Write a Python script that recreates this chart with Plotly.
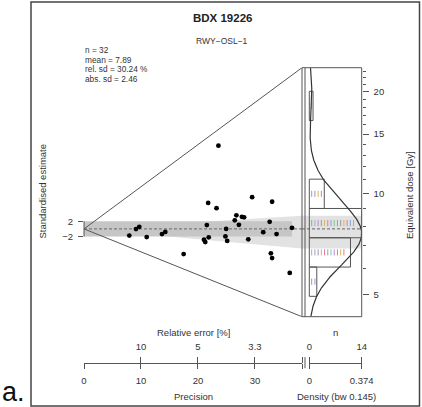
import numpy as np
import plotly.graph_objects as go

# ---------------- data ----------------
de_gy = [19.72, 10.72, 9.91, 10.40, 9.73, 8.96, 8.54, 8.80, 8.74, 8.16, 8.31,
         8.22, 7.85, 7.91, 7.64, 7.54, 7.10, 7.25, 6.86, 6.68, 6.93, 7.14,
         5.39, 6.46, 6.23, 5.71, 8.31, 7.80, 6.30, 6.46, 7.43, 7.11]
rel_err_pct = [4.24, 4.59, 4.30, 3.39, 3.03, 3.74, 3.78, 3.61, 3.56, 3.68, 3.07,
               4.64, 4.01, 2.74, 3.18, 2.96, 4.57, 4.03, 4.75, 4.70, 3.98, 3.47,
               5.72, 3.05, 3.03, 2.77, 10.31, 10.96, 12.58, 9.09, 7.01, 7.31]
central_de = 7.85
dispersion_de = [6.87, 8.58]
z_band = [-2.0, 2.0]
de_limits = [4.31, 23.6]
precision_max = 38.25
hist_breaks_ln = [1.6, 1.8, 2.0, 2.2, 2.4, 2.6, 2.8, 3.0]
kde_bandwidth = 0.145
density_max = 0.374
precision_ticks = [0, 10, 20, 30]
z_ticks = [-2, 2]
z_ticktext = ["\u22122", "2"]
de_major_ticks = [5, 10, 15, 20]
de_minor_ticks = [6, 7, 8, 9, 11, 12, 13, 14, 16, 17, 18, 19, 21, 22, 23]
stats_lines = ["n = 32", "mean = 7.89", "rel. sd = 30.24 %", "abs. sd = 2.46"]
title_text = "BDX 19226"
subtitle_text = "RWY\u2212OSL\u22121"
dot_colors = ["#e07b91", "#7fa7d9", "#88c498", "#b48ad8", "#9a9a9a", "#e0b060"]

# ---------------- layout geometry (pixels) ----------------
W, H = 422, 407
def px(x):
    return x / W
def py(y):
    return 1 - y / H

X_RAD = [84, 302]
X_HIST = [302, 361.7]
X_N = [309.3, 361.7]
Y_TOP, Y_BOT = 67.7, 316.7
Y_AXIS_BOTTOM = 362.7
ydom = [py(Y_BOT), py(Y_TOP)]

FONT = "Liberation Sans, Arial, sans-serif"
TXT = "#333333"
LINE = "#555555"

# ---------------- derived values ----------------
de = np.array(de_gy)
prec = 100.0 / np.array(rel_err_pct)
ln_c = np.log(central_de)
z = (np.log(de) - ln_c) * prec
z_top = (np.log(de_limits[1]) - ln_c) * precision_max
z_bot = (np.log(de_limits[0]) - ln_c) * precision_max
z_disp = [(np.log(v) - ln_c) * precision_max for v in dispersion_de]

counts, edges = np.histogram(np.log(de), bins=hist_breaks_ln)
n_max = counts.max()
count_px = (X_N[1] - X_N[0]) / n_max
x2_left = -(X_N[0] - X_HIST[0]) / count_px

fig = go.Figure()

# dispersion polygon (radial wedge + band through histogram)
fig.add_trace(go.Scatter(x=[0, precision_max, precision_max, 0],
                         y=[0, z_disp[1], z_disp[0], 0],
                         fill="toself", fillcolor="#e2e2e2", line=dict(width=0),
                         mode="lines", hoverinfo="skip", xaxis="x", yaxis="y"))
fig.add_trace(go.Scatter(x=[x2_left, n_max, n_max, x2_left, x2_left],
                         y=[dispersion_de[0], dispersion_de[0], dispersion_de[1],
                            dispersion_de[1], dispersion_de[0]],
                         fill="toself", fillcolor="#e2e2e2", line=dict(width=0),
                         mode="lines", hoverinfo="skip", xaxis="x2", yaxis="y2"))
# +-2 band
pmax_data = prec.max()
fig.add_trace(go.Scatter(x=[0, pmax_data, pmax_data, 0, 0],
                         y=[z_band[0], z_band[0], z_band[1], z_band[1], z_band[0]],
                         fill="toself", fillcolor="#c6c6c6", line=dict(width=0),
                         mode="lines", hoverinfo="skip", xaxis="x", yaxis="y"))
# triangle
fig.add_trace(go.Scatter(x=[precision_max, 0, precision_max], y=[z_top, 0, z_bot],
                         mode="lines", line=dict(color=LINE, width=1),
                         hoverinfo="skip", xaxis="x", yaxis="y"))
# central line
fig.add_trace(go.Scatter(x=[0, precision_max], y=[0, 0], mode="lines",
                         line=dict(color="#666666", width=1, dash="3px,2px"),
                         hoverinfo="skip", xaxis="x", yaxis="y"))
fig.add_trace(go.Scatter(x=[x2_left, n_max], y=[central_de, central_de], mode="lines",
                         line=dict(color="#666666", width=1, dash="3px,2px"),
                         hoverinfo="skip", xaxis="x2", yaxis="y2"))

# histogram bars
hx, hy = [], []
for c, lo, hi in zip(counts, edges[:-1], edges[1:]):
    if c == 0:
        continue
    a, b = float(np.exp(lo)), float(np.exp(hi))
    hx += [0, c, c, 0, 0, None]
    hy += [a, a, b, b, a, None]
fig.add_trace(go.Scatter(x=hx, y=hy, mode="lines", line=dict(color=LINE, width=1),
                         hoverinfo="skip", xaxis="x2", yaxis="y2"))

# dots (one tick per value in each bin)
dots = {col: ([], []) for col in dot_colors}
k = 0
for c, lo, hi in zip(counts, edges[:-1], edges[1:]):
    mid = 0.5 * (lo + hi)
    for i in range(c):
        col = dot_colors[k % len(dot_colors)]
        k += 1
        xv = 0.64 + 0.86 * i
        dots[col][0].extend([xv, xv, None])
        dots[col][1].extend([float(np.exp(mid - 0.021)), float(np.exp(mid + 0.021)), None])
for col, (xs, ys) in dots.items():
    fig.add_trace(go.Scatter(x=xs, y=ys, mode="lines", line=dict(color=col, width=1),
                             hoverinfo="skip", xaxis="x2", yaxis="y2"))

# KDE
grid = np.linspace(np.log(de_limits[0]), np.log(de_limits[1]), 500)
ld = np.log(de)
kde = np.exp(-0.5 * ((grid[:, None] - ld[None, :]) / kde_bandwidth) ** 2).sum(axis=1)
kde = kde / (len(ld) * kde_bandwidth * np.sqrt(2 * np.pi))
fig.add_trace(go.Scatter(x=kde / kde.max() * n_max, y=np.exp(grid), mode="lines",
                         line=dict(color="#333333", width=1.2),
                         hoverinfo="skip", xaxis="x2", yaxis="y2"))

# points
fig.add_trace(go.Scatter(x=prec, y=z, mode="markers",
                         marker=dict(color="black", size=4.8),
                         hoverinfo="skip", xaxis="x", yaxis="y"))

# dummy traces so the display axes render
fig.add_trace(go.Scatter(x=[10], y=[0], mode="markers", marker=dict(opacity=0),
                         hoverinfo="skip", xaxis="x3", yaxis="y"))
fig.add_trace(go.Scatter(x=[1], y=[central_de], mode="markers", marker=dict(opacity=0),
                         hoverinfo="skip", xaxis="x4", yaxis="y2"))
fig.add_trace(go.Scatter(x=[0.1], y=[central_de], mode="markers", marker=dict(opacity=0),
                         hoverinfo="skip", xaxis="x5", yaxis="y2"))

tickfont = dict(family=FONT, size=9.5, color=TXT)
pos_bottom = py(Y_AXIS_BOTTOM)

rel_vals = precision_ticks[1:]
rel_text = [("%.1f" % (100.0 / v)).rstrip("0").rstrip(".") for v in rel_vals]

fig.update_layout(
    width=W, height=H, autosize=False,
    margin=dict(l=0, r=0, t=0, b=0, pad=0),
    paper_bgcolor="white", plot_bgcolor="rgba(0,0,0,0)",
    showlegend=False, hovermode=False, dragmode=False,
    font=dict(family=FONT, color=TXT),
    xaxis=dict(domain=[px(X_RAD[0]), px(X_RAD[1])], range=[0, precision_max],
               autorange=False, automargin=False,
               anchor="free", position=pos_bottom, side="bottom",
               tickmode="array", tickvals=precision_ticks + [precision_max],
               ticktext=[str(v) for v in precision_ticks] + [""],
               ticks="outside", ticklen=5.5, tickcolor=LINE, tickwidth=1,
               showline=True, linecolor=LINE, linewidth=1,
               showgrid=False, zeroline=False, tickfont=tickfont,
               ticklabelstandoff=3),
    xaxis3=dict(overlaying="x", range=[0, precision_max],
                autorange=False, automargin=False,
                anchor="free", position=pos_bottom, side="top",
                tickmode="array", tickvals=rel_vals + [precision_max],
                ticktext=rel_text + [""],
                ticks="outside", ticklen=5.5, tickcolor=LINE, tickwidth=1,
                showline=False, showgrid=False, zeroline=False, tickfont=tickfont,
                ticklabelstandoff=3),
    xaxis2=dict(domain=[px(X_HIST[0]), px(X_HIST[1])], range=[x2_left, n_max],
                autorange=False, automargin=False,
                anchor="y2", visible=False, showgrid=False, zeroline=False),
    xaxis4=dict(domain=[px(X_N[0]), px(X_N[1])], range=[0, n_max],
                autorange=False, automargin=False,
                anchor="free", position=pos_bottom, side="top",
                tickmode="array", tickvals=[0, n_max], ticktext=["0", str(n_max)],
                ticks="outside", ticklen=5.5, tickcolor=LINE, tickwidth=1,
                showline=True, linecolor=LINE, linewidth=1,
                showgrid=False, zeroline=False, tickfont=tickfont,
                ticklabelstandoff=3),
    xaxis5=dict(overlaying="x4", range=[0, density_max],
                autorange=False, automargin=False,
                anchor="free", position=pos_bottom, side="bottom",
                tickmode="array", tickvals=[0, density_max],
                ticktext=["0", str(density_max)],
                ticks="outside", ticklen=5.5, tickcolor=LINE, tickwidth=1,
                showline=False, showgrid=False, zeroline=False, tickfont=tickfont,
                ticklabelstandoff=3),
    yaxis=dict(domain=ydom, range=[z_bot, z_top], anchor="x",
               autorange=False, automargin=False,
               tickmode="array", tickvals=z_ticks, ticktext=z_ticktext,
               ticks="outside", ticklen=5, tickcolor=LINE, tickwidth=1,
               showline=False, showgrid=False, zeroline=False, tickfont=tickfont,
               ticklabelstandoff=3),
    yaxis2=dict(domain=ydom, type="log",
                range=[np.log10(de_limits[0]), np.log10(de_limits[1])],
                autorange=False, automargin=False,
                anchor="x2", side="right",
                tickmode="array", tickvals=de_major_ticks,
                ticktext=[str(v) for v in de_major_ticks],
                ticks="outside", ticklen=6, tickcolor=LINE, tickwidth=1,
                minor=dict(tickmode="array", tickvals=de_minor_ticks, ticks="outside",
                           ticklen=3, tickcolor=LINE, tickwidth=1, showgrid=False),
                showline=False, showgrid=False, zeroline=False, tickfont=tickfont,
                ticklabelstandoff=3),
)

shapes = [
    # histogram frame
    dict(type="rect", xref="x2 domain", yref="y2 domain", x0=0, x1=1, y0=0, y1=1,
         line=dict(color=LINE, width=1)),
    dict(type="line", xref="x2 domain", yref="y2 domain",
         x0=(305 - X_HIST[0]) / (X_HIST[1] - X_HIST[0]),
         x1=(305 - X_HIST[0]) / (X_HIST[1] - X_HIST[0]), y0=0, y1=1,
         line=dict(color=LINE, width=1)),
    # left bracket axis line
    dict(type="line", xref="paper", yref="y", x0=px(X_RAD[0]), x1=px(X_RAD[0]),
         y0=z_band[0], y1=z_band[1], line=dict(color=LINE, width=1)),
    # second tick near the end of precision axis
    dict(type="line", xref="paper", yref="paper", x0=px(305), x1=px(305),
         y0=py(Y_AXIS_BOTTOM + 5.5), y1=py(Y_AXIS_BOTTOM - 5.5),
         line=dict(color=LINE, width=1)),
    # outer frame
    dict(type="rect", xref="paper", yref="paper", x0=px(31), x1=px(419.5),
         y0=py(406), y1=py(2), line=dict(color="#444444", width=1.5)),
]
fig.update_layout(shapes=shapes)

ann = []
def add_text(text, x, y, size, xanchor="center", angle=0, bold=False, color=TXT):
    ann.append(dict(text=("<b>%s</b>" % text) if bold else text,
                    x=px(x), y=py(y), xref="paper", yref="paper",
                    xanchor=xanchor, yanchor="middle", showarrow=False,
                    textangle=angle, font=dict(family=FONT, size=size, color=color)))

add_text(title_text, 222.5, 18, 11.5, bold=True, color="#222222")
add_text(subtitle_text, 222, 40.7, 8.5)
for i, line in enumerate(stats_lines):
    add_text(line, 82.5, 50 + 9.7 * i, 8.3, xanchor="left")
add_text("Standardised estimate", 42, 191.5, 9.5, angle=-90)
add_text("Equivalent dose [Gy]", 409.5, 195.5, 9.5, angle=-90)
add_text("Relative error [%]", 193, 332, 9.5)
add_text("n", 335, 332, 9.5)
add_text("Precision", 193, 396, 9.5)
add_text("Density (bw 0.145)", 336, 396, 9.5)
add_text("a.", 13, 392, 27, color="#111111")
fig.update_layout(annotations=ann)

fig.write_html("out.html",
               config={"displayModeBar": False, "responsive": False},
               post_script="document.body.style.margin='0';document.body.style.padding='0';")
